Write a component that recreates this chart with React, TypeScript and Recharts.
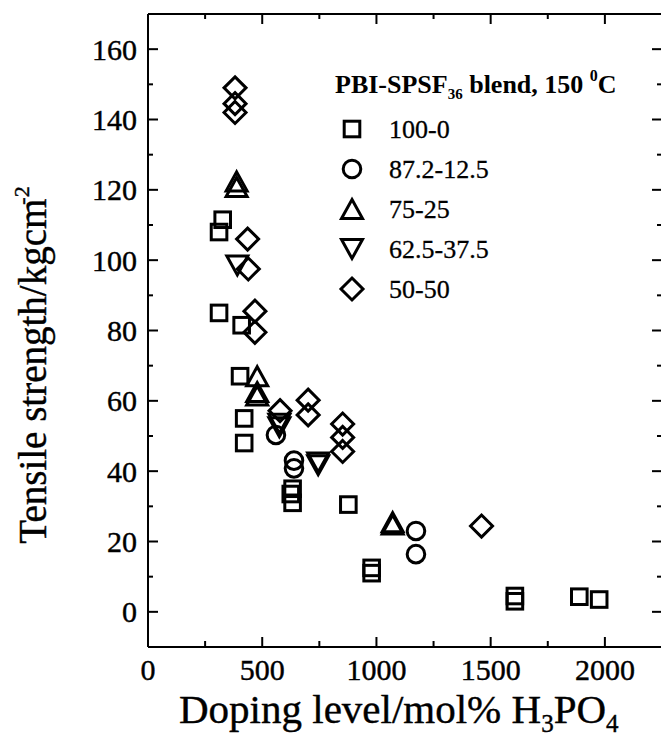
import React from 'react';
import { ScatterChart, Scatter, XAxis, YAxis, Legend } from 'recharts';

const FONT = '"Liberation Serif", "Times New Roman", Times, serif';

const seriesNames = ['100-0', '87.2-12.5', '75-25', '62.5-37.5', '50-50'];
const seriesShapes = ['square', 'circle', 'triangle', 'triangleDown', 'diamond'];

const blend100_0 = [
  { x: 311, y: 108 }, { x: 327, y: 111.5 }, { x: 311, y: 85 }, { x: 410, y: 81.5 },
  { x: 403, y: 67 }, { x: 421, y: 55 }, { x: 421, y: 48 }, { x: 625, y: 33.5 },
  { x: 633, y: 35 }, { x: 633, y: 31 }, { x: 877, y: 30.5 }, { x: 979, y: 12.5 },
  { x: 979, y: 11 }, { x: 1606, y: 4.5 }, { x: 1606, y: 3 }, { x: 1888, y: 4.3 },
  { x: 1975, y: 3.5 },
];
const blend87_12 = [
  { x: 560, y: 50.3 }, { x: 639, y: 43 }, { x: 639, y: 40.8 }, { x: 1173, y: 23 }, { x: 1173, y: 16.4 },
];
const blend75_25 = [
  { x: 388, y: 122.4 }, { x: 388, y: 120.8 }, { x: 478, y: 67 }, { x: 478, y: 62.5 },
  { x: 478, y: 61.5 }, { x: 1071, y: 25.5 }, { x: 1071, y: 24.8 },
];
const blend62_37 = [
  { x: 391, y: 98.5 }, { x: 575, y: 53.5 }, { x: 575, y: 52.5 }, { x: 745, y: 42.5 }, { x: 745, y: 41.7 },
];
const blend50_50 = [
  { x: 381, y: 149 }, { x: 381, y: 144.5 }, { x: 381, y: 142 }, { x: 436, y: 106 },
  { x: 439, y: 97.5 }, { x: 468, y: 85.5 }, { x: 468, y: 79.5 }, { x: 578, y: 57.2 },
  { x: 701, y: 60.2 }, { x: 701, y: 56 }, { x: 852, y: 53.4 }, { x: 852, y: 49.6 },
  { x: 852, y: 45.6 }, { x: 1460, y: 24.4 },
];
const seriesData = [blend100_0, blend87_12, blend75_25, blend62_37, blend50_50];

const xTicks = [0, 250, 500, 750, 1000, 1250, 1500, 1750, 2000];
const yTicks = [0, 10, 20, 30, 40, 50, 60, 70, 80, 90, 100, 110, 120, 130, 140, 150, 160];
const xDomain = [0, 2250];
const yDomain = [-10, 170];

const SW = 3;

function Marker({ kind, cx, cy }: { kind: string; cx: number; cy: number }) {
  const common = { fill: 'none', stroke: '#000', strokeWidth: SW };
  if (kind === 'square') {
    const h = 7.8;
    return <rect x={cx - h} y={cy - h} width={2 * h} height={2 * h} {...common} />;
  }
  if (kind === 'circle') {
    return <circle cx={cx} cy={cy} r={8.8} {...common} />;
  }
  if (kind === 'triangle') {
    const w = 10.5, h = 9.5;
    return <path d={`M${cx},${cy - h} L${cx + w},${cy + h} L${cx - w},${cy + h} Z`} {...common} />;
  }
  if (kind === 'triangleDown') {
    const w = 10.5, h = 9.5;
    return <path d={`M${cx - w},${cy - h} L${cx + w},${cy - h} L${cx},${cy + h} Z`} {...common} />;
  }
  const d = 11;
  return <path d={`M${cx},${cy - d} L${cx + d},${cy} L${cx},${cy + d} L${cx - d},${cy} Z`} {...common} />;
}

const makeShape = (kind: string) => (props: any) => {
  const { cx, cy } = props;
  if (cx == null || cy == null) return <g />;
  return <Marker kind={kind} cx={cx} cy={cy} />;
};

const hiddenShape = () => <g />;

const textStyle = { fontFamily: FONT, fill: '#000', stroke: '#000', strokeWidth: 0.4 };

const BottomTick = (p: any) => {
  const { x, y, payload } = p;
  const v = payload.value;
  const major = v % 500 === 0;
  return (
    <g>
      {v > 0 && <line x1={x} x2={x} y1={y} y2={y - (major ? 10 : 6)} stroke="#000" strokeWidth={2} />}
      {major && (
        <text x={x} y={y + 33} textAnchor="middle" fontSize={30} {...textStyle}>{v}</text>
      )}
    </g>
  );
};

const TopTick = (p: any) => {
  const { x, y, payload } = p;
  const v = payload.value;
  const major = v % 500 === 0;
  if (v <= 0) return <g />;
  return <line x1={x} x2={x} y1={y} y2={y + (major ? 10 : 5)} stroke="#000" strokeWidth={2} />;
};

const LeftTick = (p: any) => {
  const { x, y, payload } = p;
  const v = payload.value;
  const major = v % 20 === 0;
  return (
    <g>
      <line x1={x} x2={x + (major ? 10 : 5)} y1={y} y2={y} stroke="#000" strokeWidth={2} />
      {major && (
        <text x={x - 11} y={y + 10.5} textAnchor="end" fontSize={30} {...textStyle}>{v}</text>
      )}
    </g>
  );
};

const RightTick = (p: any) => {
  const { x, y, payload } = p;
  const v = payload.value;
  const major = v % 20 === 0;
  return <line x1={x} x2={x - (major ? 10 : 5)} y1={y} y2={y} stroke="#000" strokeWidth={2} />;
};

const XTitle = (p: any) => {
  const vb = p.viewBox || {};
  const x = (vb.x ?? 148) + 31;
  const y = (vb.y ?? 647) + 76;
  return (
    <text x={x} y={y} fontSize={41} {...textStyle}>
      Doping level/mol% H
      <tspan fontSize={25} dy={9}>3</tspan>
      <tspan dy={-9}>PO</tspan>
      <tspan fontSize={25} dy={9}>4</tspan>
    </text>
  );
};

const YTitle = () => {
  const cx = 46;
  const cy = 365;
  return (
    <text x={cx} y={cy} transform={`rotate(-90 ${cx} ${cy})`} textAnchor="middle" fontSize={39} {...textStyle}>
      Tensile strength/kgcm
      <tspan fontSize={22} dy={-17} dx={-6}>-2</tspan>
    </text>
  );
};

const LegendContent = () => (
  <svg width={330} height={260} style={{ display: 'block', overflow: 'visible' }}>
    <text x={15} y={38} fontSize={26} fontWeight="bold" fontFamily={FONT} fill="#000">
      PBI-SPSF
      <tspan fontSize={15} dy={6}>36</tspan>
      <tspan dy={-6}> blend, 150 </tspan>
      <tspan fontSize={16} dy={-12}>0</tspan>
      <tspan dy={12}>C</tspan>
    </text>
    {seriesNames.map((name, i) => (
      <g key={name}>
        <Marker kind={seriesShapes[i]} cx={32} cy={74 + 40 * i} />
        <text x={69} y={83 + 40 * i} fontSize={26} {...textStyle} strokeWidth={0.3}>{name}</text>
      </g>
    ))}
  </svg>
);

export default function App() {
  return (
    <div style={{ position: 'absolute', left: 0, top: 0, width: 661, height: 742, overflow: 'hidden', background: '#fff' }}>
      <ScatterChart width={680} height={742} margin={{ top: 13, right: 17, bottom: 0, left: 0 }}>
        <XAxis
          xAxisId="b" type="number" dataKey="x" domain={xDomain} ticks={xTicks} interval={0}
          height={95} tickSize={0} tickMargin={0} tickLine={false}
          axisLine={{ stroke: '#000', strokeWidth: 2 }} tick={BottomTick} allowDataOverflow
          label={XTitle}
        />
        <XAxis
          xAxisId="t" orientation="top" type="number" dataKey="x" domain={xDomain} ticks={xTicks} interval={0}
          height={1} tickSize={0} tickMargin={0} tickLine={false}
          axisLine={{ stroke: '#000', strokeWidth: 2 }} tick={TopTick} allowDataOverflow
        />
        <YAxis
          yAxisId="l" type="number" dataKey="y" domain={yDomain} ticks={yTicks} interval={0}
          width={148} tickSize={0} tickMargin={0} tickLine={false}
          axisLine={{ stroke: '#000', strokeWidth: 2 }} tick={LeftTick} allowDataOverflow
          label={YTitle}
        />
        <YAxis
          yAxisId="r" orientation="right" type="number" dataKey="y" domain={yDomain} ticks={yTicks} interval={0}
          width={1} tickSize={0} tickMargin={0} tickLine={false}
          axisLine={{ stroke: '#000', strokeWidth: 2 }} tick={RightTick} allowDataOverflow
        />
        {seriesData.map((data, i) => (
          <Scatter
            key={seriesNames[i]} name={seriesNames[i]} data={data} xAxisId="b" yAxisId="l"
            shape={makeShape(seriesShapes[i])} isAnimationActive={false}
          />
        ))}
        <Scatter
          name="frame" data={blend100_0} xAxisId="t" yAxisId="r" legendType="none"
          shape={hiddenShape} isAnimationActive={false}
        />
        <Legend
          layout="horizontal" verticalAlign="middle" align="center"
          wrapperStyle={{ position: 'absolute', left: 320, top: 55, width: 330, height: 260 }}
          content={LegendContent}
        />
      </ScatterChart>
    </div>
  );
}
